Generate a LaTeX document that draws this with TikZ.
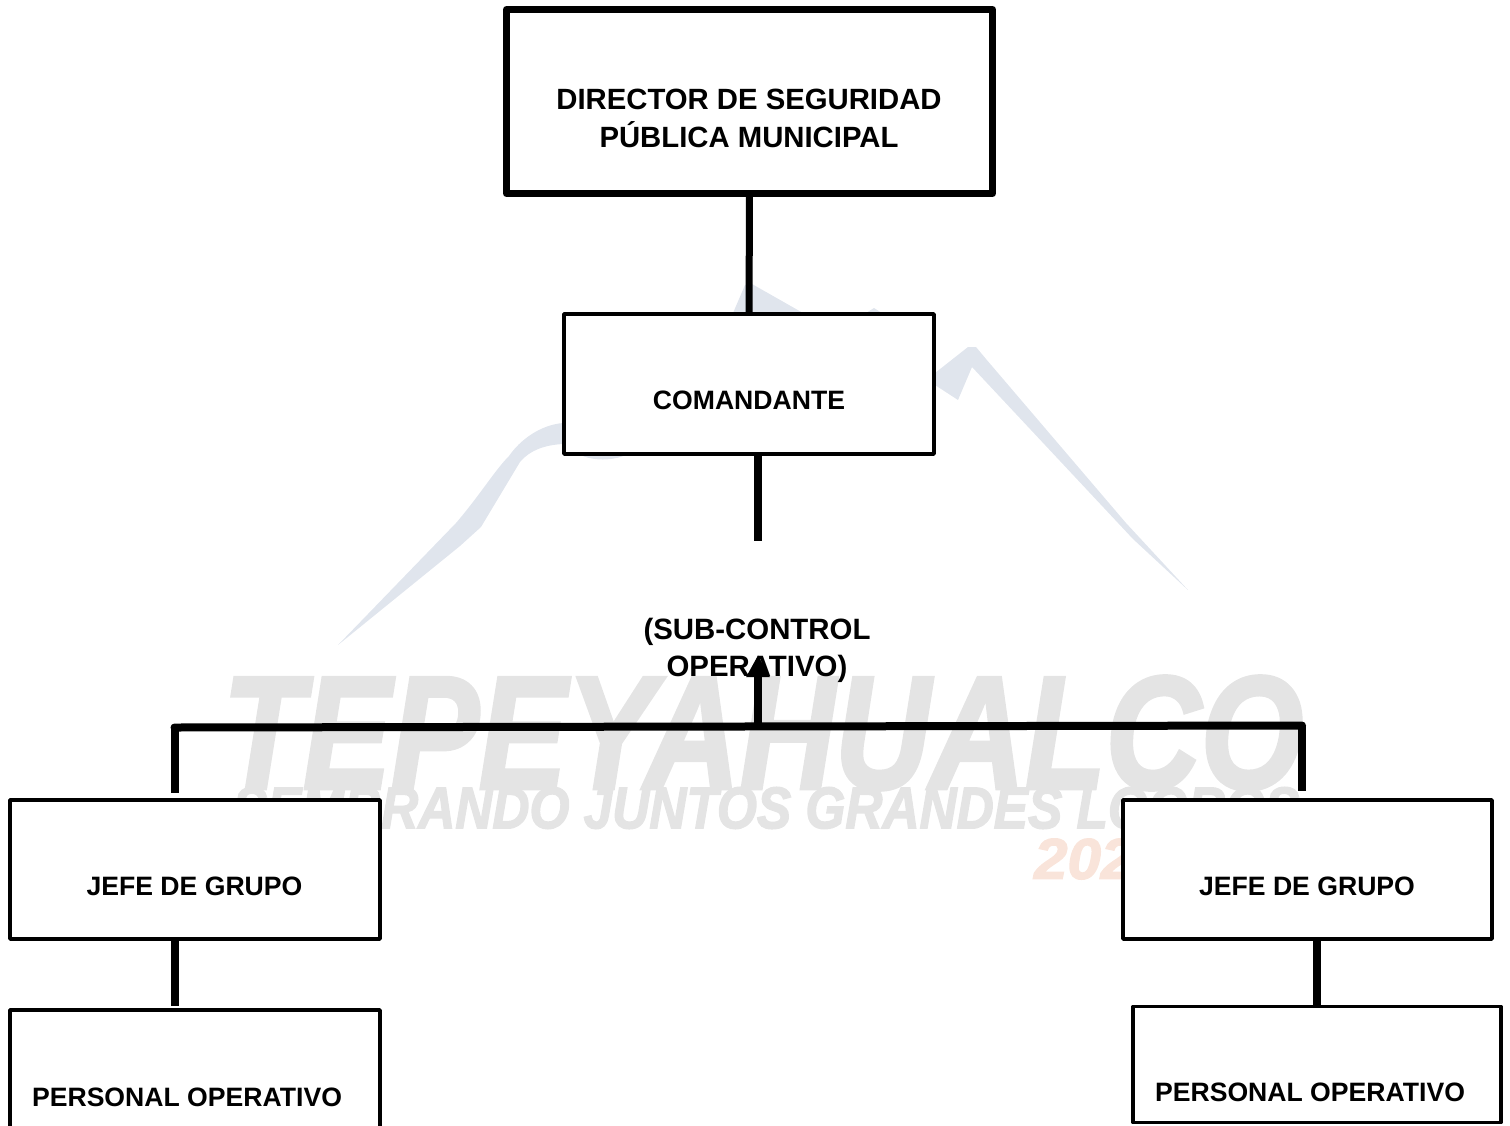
\documentclass[tikz,border=0pt]{standalone}
\usepackage{fontspec}
\usepackage{graphicx}
\usepackage{xcolor}
\usetikzlibrary{arrows.meta}
\setmainfont{Liberation Sans}
\newfontfamily\marca[BoldItalicFeatures={FakeBold=2.5}]{Liberation Sans}
\definecolor{wmgray}{RGB}{228,228,228}
\definecolor{wmblue}{RGB}{224,229,237}
\definecolor{wmorange}{RGB}{249,228,218}
\tikzset{
    puesto/.style={draw, fill=white, line width=3.5pt, line join=round, outer sep=0pt, inner sep=0pt},
    titulo/.style={font=\fontsize{26.6}{38}\selectfont\bfseries, align=center, inner sep=0pt},
    enlace/.style={line width=8pt},
}

\begin{document}
\begin{tikzpicture}[x=1pt, y=-1pt]
            \useasboundingbox (0,0) rectangle (1510,1125);
            \fill[wmblue] (338,645) -- (456,523) .. controls (480,495) and (495,470) .. (509,456) .. controls (520,440) and (540,425) .. (563,423) -- (563,444) .. controls (545,445) and (530,450) .. (520,462) -- (481,527) -- (460,546) -- cycle;
            \fill[wmblue] (575,452) .. controls (590,462) and (615,462) .. (632,452) -- cycle;
            \fill[wmblue] (733,313) -- (745,285) -- (752,284) -- (803,313) -- cycle;
            \fill[wmblue] (866,313) -- (874,308) -- (882,313) -- cycle;
            \fill[wmblue] (935,373) -- (968,347) -- (976,347) -- (986,359) -- (1126,523) -- (1188,590) -- (1133,539) -- (972,367) -- (958,400) -- (935,385) -- cycle;
            \node[text=wmgray, inner sep=0pt] (lema) at (763,733) {\resizebox{1080pt}{112pt}{\marca\bfseries\itshape TEPEYAHUALCO}};
            \node[text=wmgray, inner sep=0pt] (sembrando) at (766,808) {\resizebox{1066pt}{41pt}{\marca\bfseries\itshape SEMBRANDO JUNTOS GRANDES LOGROS}};
            \node[text=wmorange, inner sep=0pt, anchor=west] (anio) at (1034,859) {\resizebox{100pt}{40pt}{\marca\bfseries\itshape 202}};

            \node[puesto, line width=7pt, minimum width=486pt, minimum height=184pt] (director) at (749.5,101.5) {};
            \node[puesto, minimum width=370pt, minimum height=140pt] (comandante) at (749,384) {};
            \node[puesto, minimum width=370pt, minimum height=139pt] (jefeL) at (195,869.5) {};
            \node[puesto, minimum width=369pt, minimum height=139pt] (jefeR) at (1307.5,869.5) {};
            \node[puesto, minimum width=370pt, minimum height=150pt] (personalL) at (195,1085) {};
            \node[puesto, minimum width=368pt, minimum height=116pt] (personalR) at (1317,1064.5) {};

            \node[titulo, font=\fontsize{29.3}{38}\selectfont\bfseries] (directorTxt) at (749,118) {DIRECTOR DE SEGURIDAD\\PÚBLICA MUNICIPAL};
            \node[titulo] (comandanteTxt) at (749,400) {COMANDANTE};
            \node[titulo, font=\fontsize{29.4}{37}\selectfont\bfseries] (subcontrol) at (757,650) {(SUB-CONTROL\\OPERATIVO)};
            \node[titulo] (jefeLTxt) at (194.5,886) {JEFE DE GRUPO};
            \node[titulo] (jefeRTxt) at (1307,886) {JEFE DE GRUPO};
            \node[titulo] (personalLTxt) at (187,1097) {PERSONAL OPERATIVO};
            \node[titulo] (personalRTxt) at (1310,1092) {PERSONAL OPERATIVO};

            \coordinate (busL) at (174.5,727.5);
            \coordinate (busM) at (758,726.5);
            \coordinate (busR) at (1302,725.5);
            \coordinate (corte) at (758,541);
            \coordinate (punta) at (758,655);

            \draw[line width=7pt] (director.south) -- (comandante.north);
            \draw[enlace] (comandante.south -| corte) -- (corte);
            \draw[line width=8pt, -{Triangle[width=22pt, length=22pt]}] (busM) -- (punta);
            \draw[enlace, line cap=round] (busL) -- (busR);
            \draw[enlace, shorten >=7pt] (busL) -- (busL |- jefeL.north);
            \draw[enlace, shorten >=9pt] (busR) -- (busR |- jefeR.north);
            \draw[enlace] (jefeL.south -| busL) -- (busL |- 0,1006);
            \draw[enlace] (jefeR.south -| personalR) -- (personalR.north);
        \end{tikzpicture}
\end{document}
